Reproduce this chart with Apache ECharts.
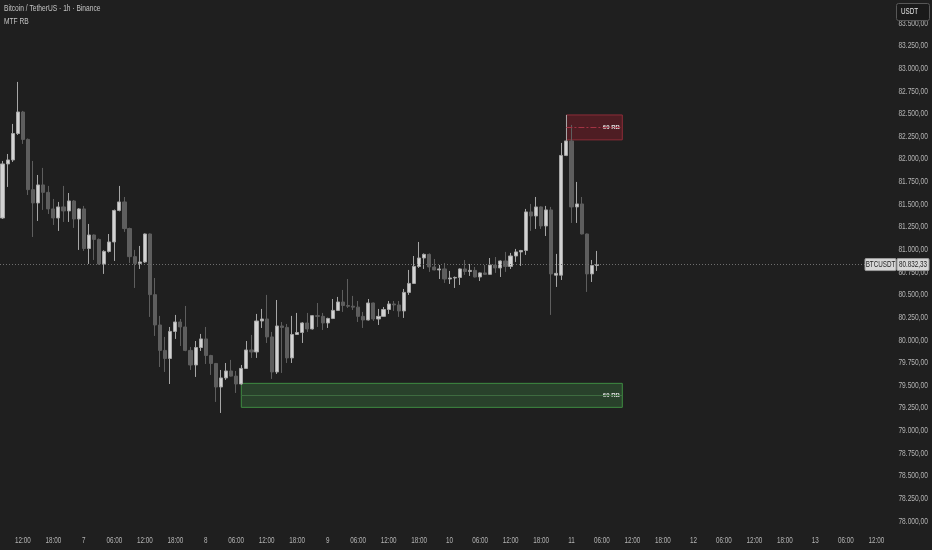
<!DOCTYPE html>
<html>
<head>
<meta charset="utf-8">
<title>BTCUSDT 1h MTF RB</title>
<script src="https://cdn.jsdelivr.net/npm/echarts@6.0.0/dist/echarts.min.js"></script>
<style>
  html, body { margin: 0; padding: 0; background: #1f1f1f; }
  #main { width: 932px; height: 550px; }
</style>
</head>
<body>
<div id="main"></div>
<script>
// 1h candles, first one = day 6 08:00
var startDay = 6;
var startHour = 8;
var totalSlots = 175; // empty slots on the right, up to day 13

var opens = [
  81347, 81944, 81988, 82280, 82518, 82215, 81660, 81513, 81712, 81630,
  81447, 81347, 81469, 81425, 81535, 81336, 81447, 81010, 81159, 81110,
  80839, 80978, 81082, 81430, 81524, 81230, 80920, 80845, 80861, 81170,
  80500, 80165, 79884, 79795, 80094, 80198, 80143, 79884, 79723, 79916,
  80011, 79828, 79740, 79480, 79580, 79657, 79600, 79513, 79685, 79889,
  79867, 80209, 80231, 80033, 79646, 80154, 80138, 79801, 80060, 80082,
  80187, 80121, 80268, 80260, 80187, 80237, 80326, 80419, 80380, 80372,
  80362, 80260, 80220, 80408, 80231, 80260, 80336, 80397, 80386, 80320,
  80525, 80624, 80812, 80905, 80945, 80806, 80773, 80784, 80673, 80684,
  80690, 80784, 80756, 80768, 80695, 80740, 80724, 80828, 80795, 80872,
  80812, 80927, 80972, 80988, 81414, 81369, 81469, 81259, 81436, 80715,
  80715, 82038, 82198, 81469, 81502, 81170, 80729, 80822
];
var closes = [
  81944, 81988, 82280, 82518, 82215, 81660, 81513, 81712, 81630, 81447,
  81347, 81469, 81425, 81535, 81336, 81447, 81010, 81159, 81110, 80839,
  80978, 81082, 81430, 81524, 81230, 80920, 80845, 80861, 81170, 80500,
  80165, 79884, 79795, 80094, 80198, 80143, 79884, 79723, 79916, 80011,
  79828, 79740, 79480, 79580, 79657, 79600, 79513, 79685, 79889, 79867,
  80209, 80231, 80033, 79646, 80154, 80138, 79801, 80060, 80082, 80187,
  80121, 80268, 80260, 80187, 80237, 80326, 80419, 80380, 80372, 80362,
  80260, 80220, 80408, 80231, 80260, 80336, 80397, 80386, 80320, 80525,
  80624, 80812, 80905, 80945, 80806, 80773, 80784, 80673, 80684, 80690,
  80784, 80756, 80768, 80695, 80740, 80724, 80828, 80795, 80872, 80812,
  80927, 80972, 80988, 81414, 81369, 81469, 81259, 81436, 80729, 80735,
  82038, 82198, 81469, 81502, 81170, 80729, 80822, 80832.33
];
var lows = [
  81336, 81690, 81966, 82264, 82165, 81601, 81137, 81314, 81436, 81391,
  81270, 81204, 81303, 81303, 81237, 80994, 80983, 80839, 80883, 80830,
  80729, 80965, 80872, 81420, 81193, 80850, 80574, 80784, 80850, 80254,
  80044, 79701, 79646, 79513, 80011, 79933, 79875, 79668, 79591, 79878,
  79734, 79613, 79315, 79193, 79558, 79595, 79414, 79505, 79680, 79801,
  79801, 80132, 79966, 79569, 79624, 79635, 79745, 79745, 80055, 79966,
  80088, 80115, 80143, 80110, 80132, 80230, 80320, 80309, 80353, 80331,
  80198, 80132, 80215, 80209, 80165, 80255, 80287, 80320, 80254, 80243,
  80497, 80618, 80795, 80784, 80751, 80768, 80673, 80629, 80618, 80574,
  80607, 80718, 80707, 80690, 80651, 80718, 80720, 80740, 80695, 80751,
  80784, 80861, 80817, 80939, 81204, 81226, 81226, 81148, 80276, 80585,
  80662, 82030, 81292, 81292, 81165, 80530, 80640, 80762
];
var highs = [
  81977, 82054, 82386, 82850, 82530, 82225, 81977, 81822, 81900, 81701,
  81557, 81524, 81701, 81623, 81545, 81455, 81480, 81281, 81165, 81120,
  80990, 81170, 81440, 81701, 81579, 81240, 80994, 81038, 81175, 81175,
  80684, 80265, 80033, 80143, 80276, 80231, 80375, 79922, 79988, 80066,
  80143, 79835, 79745, 79668, 79745, 79779, 79657, 79723, 79988, 80055,
  80287, 80342, 80497, 80088, 80441, 80198, 80176, 80265, 80298, 80195,
  80298, 80275, 80408, 80298, 80245, 80452, 80475, 80552, 80673, 80486,
  80430, 80309, 80452, 80412, 80342, 80364, 80430, 80430, 80430, 80563,
  80773, 80927, 81082, 80955, 80955, 80894, 80828, 80850, 80762, 80700,
  80790, 80883, 80839, 80806, 80745, 80828, 80905, 80916, 80878, 80972,
  80961, 81005, 80994, 81447, 81502, 81579, 81475, 81480, 81469, 80950,
  82176, 82485, 82375, 81745, 81579, 81175, 80883, 80983
];

var lastPrice = 80832.33;
var yTicks = [
  78000, 78250, 78500, 78750, 79000, 79250, 79500, 79750, 80000, 80250, 80500, 80750,
  81000, 81250, 81500, 81750, 82000, 82250, 82500, 82750, 83000, 83250, 83500
];

// MTF RB zones: start slot, end slot, top, bottom
var redZone = [111, 122, 82485, 82210];
var greenZone = [47, 122, 79520, 79255];
var zoneText = '60 RB';

function pad(n) {
  return n < 10 ? '0' + n : '' + n;
}
function fmtPrice(v) {
  var parts = v.toFixed(2).split('.');
  return parts[0].replace(/\B(?=(\d{3})+(?!\d))/g, '.') + ',' + parts[1];
}
function timeLabel(val) {
  var p = val.split(' ');
  return p[1] === '00:00' ? p[0] : p[1];
}

var categories = [];
for (var i = 0; i < totalSlots; i++) {
  var h = startHour + i;
  categories.push((startDay + Math.floor(h / 24)) + ' ' + pad(h % 24) + ':00');
}
var candles = opens.map(function (o, i) {
  return [o, closes[i], lows[i], highs[i]];
});

var font = "'Liberation Sans', Arial, sans-serif";
var squeeze = 0.7; // scale text is narrow in TradingView screenshots

var chart = echarts.init(document.getElementById('main'));
var option = {
  backgroundColor: '#1f1f1f',
  animation: false,
  grid: { left: 0, right: 43, top: 0, bottom: 20, outerBoundsMode: 'none' },
  xAxis: {
    type: 'category',
    data: categories,
    boundaryGap: true,
    axisLine: { show: false },
    axisTick: { show: false },
    splitLine: { show: false },
    axisLabel: { show: false }
  },
  yAxis: {
    type: 'value',
    position: 'right',
    min: 77900,
    max: 83755,
    axisLine: { show: false },
    axisTick: { show: false },
    splitLine: { show: false },
    axisLabel: { show: false }
  },
  series: [{
    type: 'candlestick',
    data: candles,
    barWidth: 3.6,
    itemStyle: {
      color: '#d2d2d2',
      color0: '#5e5e5e',
      borderColor: '#a6a6a6',
      borderColor0: '#5e5e5e',
      borderWidth: 1
    },
    markArea: {
      silent: true,
      data: [
        [{
          coord: [redZone[0], redZone[2]],
          itemStyle: { color: 'rgba(110,28,38,0.6)', borderColor: '#8e2c38', borderWidth: 1 },
          label: { show: true, position: 'insideRight', formatter: zoneText, color: '#e6e6e6', fontSize: 6, fontWeight: 'bold', distance: 3 }
        }, { coord: [redZone[1], redZone[3]] }],
        [{
          coord: [greenZone[0], greenZone[2]],
          itemStyle: { color: 'rgba(50,92,52,0.55)', borderColor: '#3f8c41', borderWidth: 1 },
          label: { show: true, position: 'insideRight', formatter: zoneText, color: '#e6e6e6', fontSize: 6, fontWeight: 'bold', distance: 3 }
        }, { coord: [greenZone[1], greenZone[3]] }]
      ]
    },
    markLine: {
      silent: true,
      symbol: 'none',
      label: { show: false },
      data: [
        { yAxis: lastPrice, lineStyle: { color: '#6e6e6e', type: [1, 2], width: 1 } },
        [{ coord: [redZone[0], (redZone[2] + redZone[3]) / 2], lineStyle: { color: '#a33444', type: [6, 2, 2, 2], width: 1 } },
         { coord: [redZone[1], (redZone[2] + redZone[3]) / 2] }],
        [{ coord: [greenZone[0], (greenZone[2] + greenZone[3]) / 2], lineStyle: { color: '#3e6b40', type: 'solid', width: 1 } },
         { coord: [greenZone[1], (greenZone[2] + greenZone[3]) / 2] }]
      ]
    }
  }]
};
chart.setOption(option);

// narrow text, placed from the axis scales
function txt(s, x, y, align, size, color, z) {
  return {
    type: 'text', x: x, y: y, scaleX: squeeze, z: z || 100,
    style: { text: s, fill: color, fontSize: size, fontFamily: font, align: align, verticalAlign: 'middle' }
  };
}

var g = [];
yTicks.forEach(function (v) {
  g.push(txt(fmtPrice(v), 928, chart.convertToPixel({ yAxisIndex: 0 }, v), 'right', 9.5, '#b4b4b4', 90));
});
categories.forEach(function (c, i) {
  if (parseInt(c.split(' ')[1], 10) % 6 === 0) {
    g.push(txt(timeLabel(c), chart.convertToPixel({ xAxisIndex: 0 }, i), 541, 'center', 9, '#b4b4b4', 90));
  }
});

// 右侧价格标签 + 标题
var py = chart.convertToPixel({ yAxisIndex: 0 }, lastPrice);
g.push(txt('Bitcoin / TetherUS · 1h · Binance', 4, 8, 'left', 9.5, '#c4c4c4'));
g.push(txt('MTF RB', 4, 21, 'left', 9.5, '#c4c4c4'));
g.push({ type: 'rect', z: 100, shape: { x: 896.5, y: 3.5, width: 33, height: 17, r: 2 }, style: { fill: '#1a1a1a', stroke: '#575757', lineWidth: 1 } });
g.push(txt('USDT', 901, 12, 'left', 9, '#e4e4e4', 101));
g.push({ type: 'rect', z: 100, shape: { x: 865, y: py - 6, width: 31, height: 12, r: 1 }, style: { fill: '#d6d6d6', stroke: '#9a9a9a', lineWidth: 1 } });
g.push(txt('BTCUSDT', 880.5, py, 'center', 9, '#262626', 101));
g.push({ type: 'rect', z: 100, shape: { x: 897, y: py - 6, width: 32, height: 12, r: 1 }, style: { fill: '#d6d6d6', stroke: '#9a9a9a', lineWidth: 1 } });
g.push(txt(fmtPrice(lastPrice), 913, py, 'center', 9, '#262626', 101));

chart.setOption({ graphic: g });
</script>
</body>
</html>
